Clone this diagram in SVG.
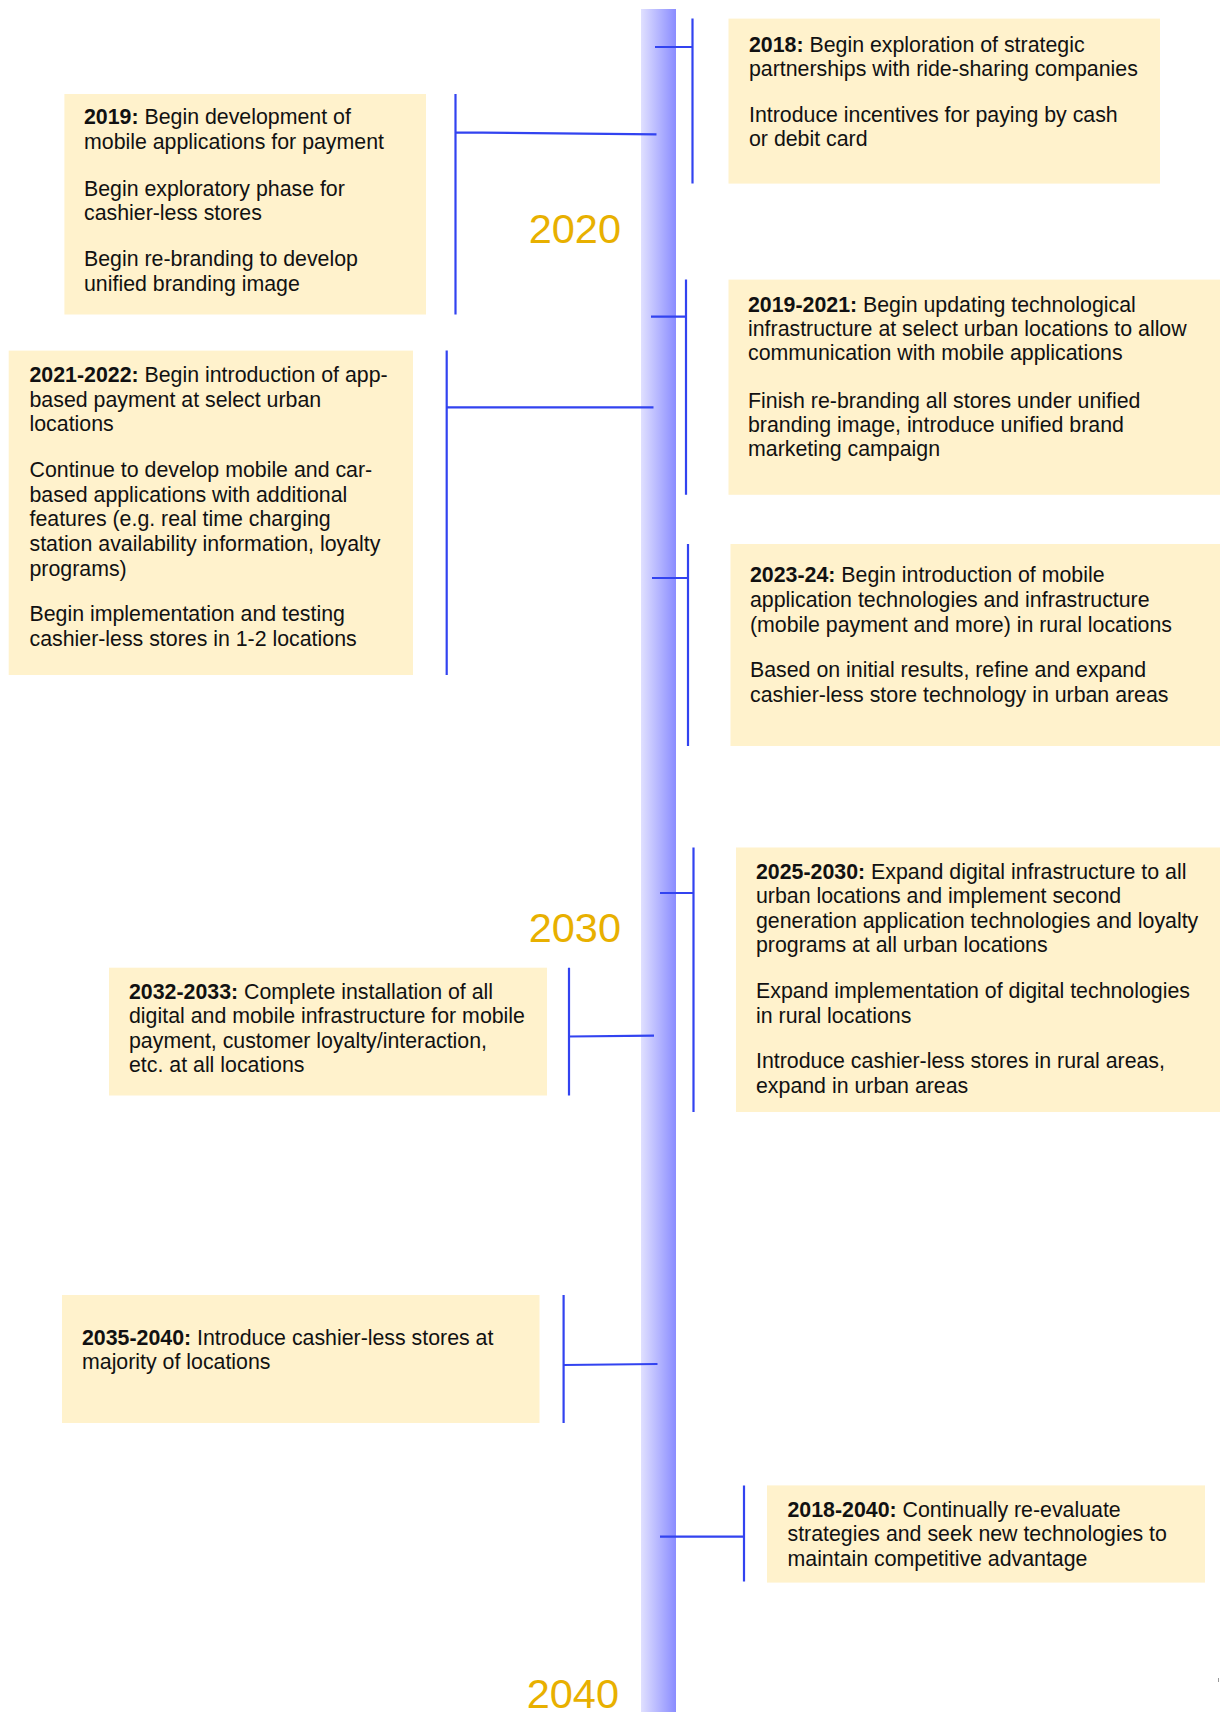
<svg xmlns="http://www.w3.org/2000/svg" width="1220" height="1712" viewBox="0 0 1220 1712">
  <defs>
    <linearGradient id="barGrad" x1="0" y1="0" x2="1" y2="0">
      <stop offset="0" stop-color="#e0e0ff"/>
      <stop offset="1" stop-color="#8a8cff"/>
    </linearGradient>
    <style>
      .box { fill: #fff2cc; }
      .txt { font-family: "Liberation Sans", Arial, sans-serif; font-size: 21.33px; fill: #111; }
      .txt .b { font-weight: bold; }
      .year { font-family: "Liberation Sans", Arial, sans-serif; font-size: 41.5px; fill: #e8b000; text-anchor: end; }
      .tick { stroke: #3243f0; stroke-width: 2.2; fill: none; }
    </style>
  </defs>

  <rect width="1220" height="1712" fill="#ffffff"/>

  <!-- central time bar -->
  <rect id="timebar" x="641" y="9" width="35" height="1703" fill="url(#barGrad)"/>

  <!-- year markers -->
  <g id="years">
    <text class="year" x="621" y="243">2020</text>
    <text class="year" x="621" y="942">2030</text>
    <text class="year" x="619" y="1708">2040</text>
  </g>

  <!-- connectors: bracket lines tying each box to the bar -->
  <g id="connectors">
    <path class="tick" d="M692.5 18.6 V183.5 M655 47 H692.5"/>
    <path class="tick" d="M686 279.6 V494.8 M651 316.7 H686"/>
    <path class="tick" d="M688 544 V746 M652 578 H688"/>
    <path class="tick" d="M693.5 847.5 V1112 M660 893 H693.5"/>
    <path class="tick" d="M744 1485.4 V1581.5 M660 1536.7 H744"/>
    <path class="tick" d="M455.5 94 V314.5 M455.5 132.3 L656.5 134.3"/>
    <path class="tick" d="M446.7 350.6 V675 M446.7 407.4 H653.5"/>
    <path class="tick" d="M569 967.7 V1095.5 M569 1036.5 L654 1035.7"/>
    <path class="tick" d="M563.6 1295 V1423 M563.6 1365 L657.5 1364"/>
  </g>

  <g id="n2018">
    <rect class="box" x="728.5" y="18.6" width="431.5" height="165"/>
    <text class="txt">
      <tspan x="749" y="52"><tspan class="b">2018:</tspan> Begin exploration of strategic</tspan>
      <tspan x="749" y="76">partnerships with ride-sharing companies</tspan>
      <tspan x="749" y="122">Introduce incentives for paying by cash</tspan>
      <tspan x="749" y="146">or debit card</tspan>
    </text>
  </g>

  <g id="n2019">
    <rect class="box" x="64.4" y="94" width="361.6" height="220.5"/>
    <text class="txt">
      <tspan x="84" y="124"><tspan class="b">2019:</tspan> Begin development of</tspan>
      <tspan x="84" y="149">mobile applications for payment</tspan>
      <tspan x="84" y="196">Begin exploratory phase for</tspan>
      <tspan x="84" y="220">cashier-less stores</tspan>
      <tspan x="84" y="266">Begin re-branding to develop</tspan>
      <tspan x="84" y="291">unified branding image</tspan>
    </text>
  </g>

  <g id="n2019-2021">
    <rect class="box" x="728.5" y="279.6" width="491.5" height="215.2"/>
    <text class="txt">
      <tspan x="748" y="312"><tspan class="b">2019-2021:</tspan> Begin updating technological</tspan>
      <tspan x="748" y="336">infrastructure at select urban locations to allow</tspan>
      <tspan x="748" y="360">communication with mobile applications</tspan>
      <tspan x="748" y="408">Finish re-branding all stores under unified</tspan>
      <tspan x="748" y="432">branding image, introduce unified brand</tspan>
      <tspan x="748" y="456">marketing campaign</tspan>
    </text>
  </g>

  <g id="n2021-2022">
    <rect class="box" x="8.7" y="350.6" width="404.3" height="324.4"/>
    <text class="txt">
      <tspan x="29.5" y="382"><tspan class="b">2021-2022:</tspan> Begin introduction of app-</tspan>
      <tspan x="29.5" y="407">based payment at select urban</tspan>
      <tspan x="29.5" y="431">locations</tspan>
      <tspan x="29.5" y="477">Continue to develop mobile and car-</tspan>
      <tspan x="29.5" y="502">based applications with additional</tspan>
      <tspan x="29.5" y="526">features (e.g. real time charging</tspan>
      <tspan x="29.5" y="551">station availability information, loyalty</tspan>
      <tspan x="29.5" y="576">programs)</tspan>
      <tspan x="29.5" y="621">Begin implementation and testing</tspan>
      <tspan x="29.5" y="646">cashier-less stores in 1-2 locations</tspan>
    </text>
  </g>

  <g id="n2023-24">
    <rect class="box" x="730.5" y="544" width="489.5" height="202"/>
    <text class="txt">
      <tspan x="750" y="582"><tspan class="b">2023-24:</tspan> Begin introduction of mobile</tspan>
      <tspan x="750" y="607">application technologies and infrastructure</tspan>
      <tspan x="750" y="632">(mobile payment and more) in rural locations</tspan>
      <tspan x="750" y="677">Based on initial results, refine and expand</tspan>
      <tspan x="750" y="702">cashier-less store technology in urban areas</tspan>
    </text>
  </g>

  <g id="n2025-2030">
    <rect class="box" x="736" y="847.5" width="484" height="264.5"/>
    <text class="txt">
      <tspan x="756" y="879"><tspan class="b">2025-2030:</tspan> Expand digital infrastructure to all</tspan>
      <tspan x="756" y="903">urban locations and implement second</tspan>
      <tspan x="756" y="928">generation application technologies and loyalty</tspan>
      <tspan x="756" y="952">programs at all urban locations</tspan>
      <tspan x="756" y="998">Expand implementation of digital technologies</tspan>
      <tspan x="756" y="1023">in rural locations</tspan>
      <tspan x="756" y="1068">Introduce cashier-less stores in rural areas,</tspan>
      <tspan x="756" y="1093">expand in urban areas</tspan>
    </text>
  </g>

  <g id="n2032-2033">
    <rect class="box" x="109" y="967.7" width="438" height="127.8"/>
    <text class="txt">
      <tspan x="129" y="999"><tspan class="b">2032-2033:</tspan> Complete installation of all</tspan>
      <tspan x="129" y="1023">digital and mobile infrastructure for mobile</tspan>
      <tspan x="129" y="1048">payment, customer loyalty/interaction,</tspan>
      <tspan x="129" y="1072">etc. at all locations</tspan>
    </text>
  </g>

  <g id="n2035-2040">
    <rect class="box" x="62" y="1295" width="477.5" height="128"/>
    <text class="txt">
      <tspan x="82" y="1345"><tspan class="b">2035-2040:</tspan> Introduce cashier-less stores at</tspan>
      <tspan x="82" y="1369">majority of locations</tspan>
    </text>
  </g>

  <g id="n2018-2040">
    <rect class="box" x="767" y="1485.4" width="438" height="97.2"/>
    <text class="txt">
      <tspan x="787.5" y="1517"><tspan class="b">2018-2040:</tspan> Continually re-evaluate</tspan>
      <tspan x="787.5" y="1541">strategies and seek new technologies to</tspan>
      <tspan x="787.5" y="1566">maintain competitive advantage</tspan>
    </text>
  </g>

  <!-- stray mark at the right edge -->
  <line x1="1218.5" y1="1678" x2="1218.5" y2="1682" stroke="#999" stroke-width="1"/>
</svg>
